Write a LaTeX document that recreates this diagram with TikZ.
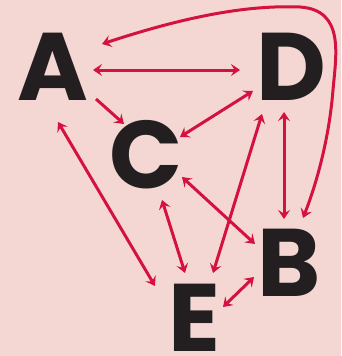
\documentclass[tikz,border=0pt]{standalone}
\usepackage{fontspec}
\setmainfont{Poppins}
\usetikzlibrary{arrows.meta}
\definecolor{bgpink}{HTML}{F4D7D3}
\definecolor{crim}{HTML}{D5123F}
\definecolor{ink}{HTML}{231F20}
\begin{document}
\begin{tikzpicture}[x=1pt,y=-1pt,
  letter/.style={inner sep=0pt,text=ink,font=\fontsize{96}{96}\selectfont\bfseries},
  conn/.style={draw=crim,line width=3pt,
    {Stealth[length=9pt,width=12pt,inset=3.5pt]}-{Stealth[length=9pt,width=12pt,inset=3.5pt]}},
  oneway/.style={draw=crim,line width=3pt,-{Stealth[length=9pt,width=12pt,inset=3.5pt]}}]
\fill[bgpink] (0,0) rectangle (341,356);
\useasboundingbox (0,0) rectangle (341,356);
\node[letter] (A) at (52.5,67) {A};
\node[letter] (D) at (291,67) {D};
\node[letter] (C) at (146.5,155) {C};
\node[letter] (B) at (289,263) {B};
\node[letter] (E) at (194,318) {E};
% A - D
\draw[conn] ([shift={(40.5,3)}]A.center) -- ([shift={(-51,3)}]D.center);
% curve A - B
\draw[conn] ([shift={(49.5,-23)}]A.center) .. controls (190,15) and (250,5) .. (300,7)
  .. controls (345,10) and (336,55) .. (333,90)
  .. controls (329,140) and (316,185) .. ([shift={(14,-45)}]B.center);
% A -> C
\draw[oneway] ([shift={(43.5,32)}]A.center) -- ([shift={(-22.5,-31)}]C.center);
% A - E
\draw[conn] ([shift={(5.5,55)}]A.center) -- ([shift={(-39,-32)}]E.center);
% D - C
\draw[conn] ([shift={(-38,24)}]D.center) -- ([shift={(33.5,-18)}]C.center);
% D - E
\draw[conn] ([shift={(-29,47)}]D.center) -- ([shift={(19,-45)}]E.center);
% D - B
\draw[conn] ([shift={(-7,45)}]D.center) -- ([shift={(-5,-44)}]B.center);
% C - E
\draw[conn] ([shift={(15.5,45)}]C.center) -- ([shift={(-9,-45)}]E.center);
% C - B
\draw[conn] ([shift={(35.5,22)}]C.center) -- ([shift={(-34,-19)}]B.center);
% E - B
\draw[conn] ([shift={(29,-11)}]E.center) -- ([shift={(-35,14)}]B.center);
\end{tikzpicture}
\end{document}
